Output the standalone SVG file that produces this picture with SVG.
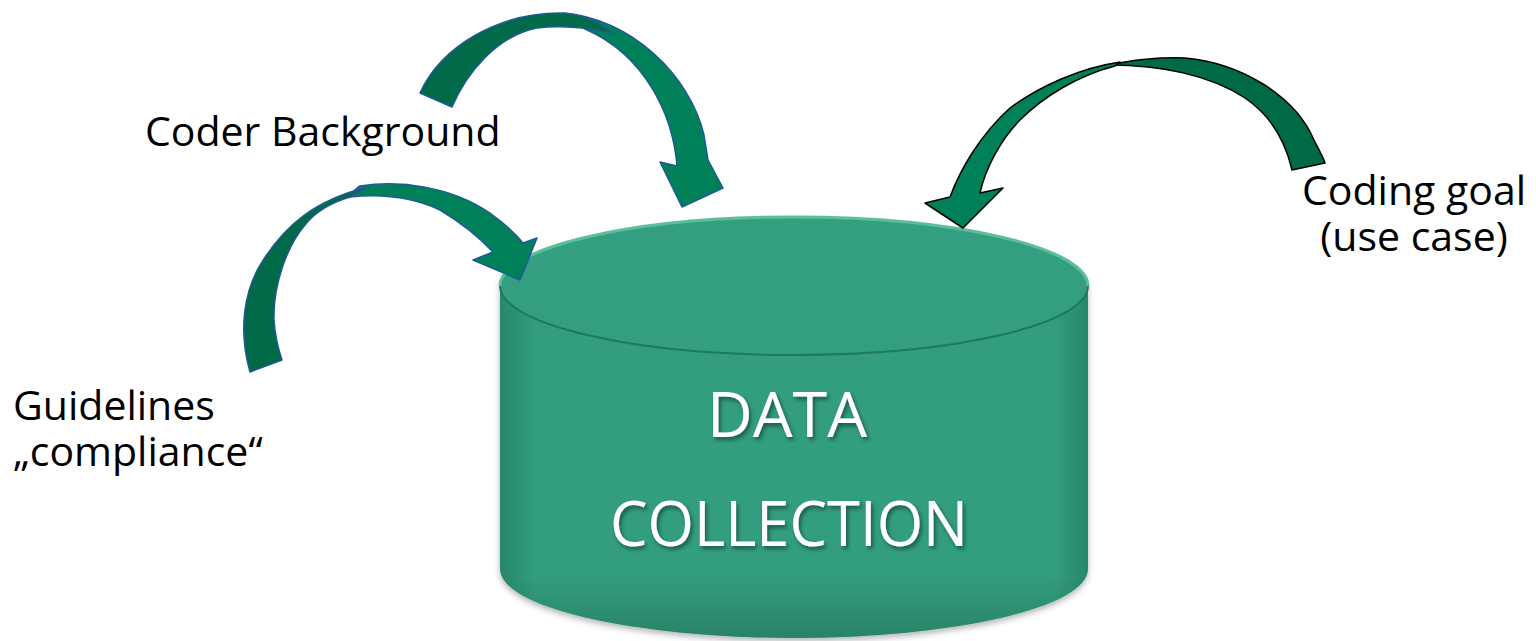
<svg xmlns="http://www.w3.org/2000/svg" width="1536" height="641" viewBox="0 0 1536 641">
<defs>
<style>
.lbl{font-family:"Open Sans","Liberation Sans",sans-serif;font-size:41px;fill:#000}
.big{font-family:"Open Sans","Liberation Sans",sans-serif;font-size:63px;fill:#fff;text-anchor:middle}
.dk{fill:#006a48}
.lt{fill:#008059}
.ob{stroke:#1f5a96;stroke-width:1.5;stroke-linejoin:round}
.ok{stroke:#000;stroke-width:1.5;stroke-linejoin:round}
</style>
<linearGradient id="side" x1="0" y1="0" x2="1" y2="0">
<stop offset="0" stop-color="#28876a"/>
<stop offset="0.06" stop-color="#329e7f"/>
<stop offset="0.94" stop-color="#329e7f"/>
<stop offset="1" stop-color="#28876a"/>
</linearGradient>
<linearGradient id="vert" x1="0" y1="0" x2="0" y2="1">
<stop offset="0.85" stop-color="#000" stop-opacity="0"/>
<stop offset="1" stop-color="#000" stop-opacity="0.18"/>
</linearGradient>
<filter id="ts" x="-10%" y="-20%" width="130%" height="150%">
<feDropShadow dx="2" dy="3" stdDeviation="2" flood-color="#000" flood-opacity="0.45"/>
</filter>
<filter id="cs" x="-5%" y="-5%" width="110%" height="115%">
<feDropShadow dx="0" dy="3" stdDeviation="3" flood-color="#000" flood-opacity="0.3"/>
</filter>
</defs>
<rect width="1536" height="641" fill="#fff"/>

<g id="data-collection">
<path d="M500,286 A294,69 0 0 1 1088,286 L1088,569 A294,69 0 0 1 500,569 Z" fill="url(#side)" filter="url(#cs)"/>
<path d="M500,286 A294,69 0 0 1 1088,286 L1088,569 A294,69 0 0 1 500,569 Z" fill="url(#vert)"/>
<ellipse cx="794" cy="286" rx="294" ry="69" fill="#339f80"/>
<path d="M500,286 A294,69 0 0 1 1088,286" fill="none" stroke="#5cbf9c" stroke-width="3"/>
<path d="M500,286 A294,69 0 0 0 1088,286" fill="none" stroke="#1d7a5c" stroke-width="2"/>
<g filter="url(#ts)">
<text class="big" x="787" y="437">DATA</text>
<text class="big" x="789" y="546" textLength="358" lengthAdjust="spacingAndGlyphs">COLLECTION</text>
</g>
</g>

<g id="connectors">
<g id="arrow-coder">
<path class="lt ob" d="M563,13 C630,18 690,75 704,135 L708,160 L723,188 L682,207 L660,162 L677,166 C673,115 645,55 585,29 C575,24 568,18 563,13 Z"/>
<path class="dk ob" d="M420,93 C442,45 500,13 560,13 C585,14 600,22 612,33 C590,28 562,25 537,28 C497,36 467,72 452,107 Z"/>
</g>
<g id="arrow-guidelines">
<path class="lt ob" d="M360,186 C400,180 450,186 490,213 C505,224 515,233 523,243 L537,238 L520,280 L473,260 L493,252 C480,238 465,225 440,210 C410,196 380,194 350,197 C352,193 355,189 360,186 Z"/>
<path class="dk ob" d="M250,372 C238,330 244,290 262,262 C285,225 315,200 368,187 C362,190 356,194 350,197 C330,203 315,212 305,225 C287,246 273,285 274,320 C275,335 278,348 282,360 Z"/>
</g>
<g id="arrow-goal">
<path class="dk ok" d="M1292,170 C1285,140 1270,115 1245,98 C1210,75 1160,65 1110,65 C1130,60 1160,57 1185,58 C1240,63 1295,95 1314,140 C1319,150 1323,157 1325,163 Z"/>
<path class="lt ok" d="M1120,62 C1080,68 1040,86 1010,108 C980,135 960,170 950,197 L925,203 L963,228 L1003,188 L980,193 C985,170 1000,140 1020,120 C1045,95 1080,75 1115,66 Z"/>
</g>
</g>

<g id="label-coder"><text class="lbl" x="145" y="146">Coder Background</text></g>
<g id="label-guidelines">
<text class="lbl" x="13" y="420">Guidelines</text>
<text class="lbl" x="13" y="466">„compliance“</text>
</g>
<g id="label-goal">
<text class="lbl" x="1414" y="205" text-anchor="middle">Coding goal</text>
<text class="lbl" x="1414" y="251" text-anchor="middle">(use case)</text>
</g>
</svg>
